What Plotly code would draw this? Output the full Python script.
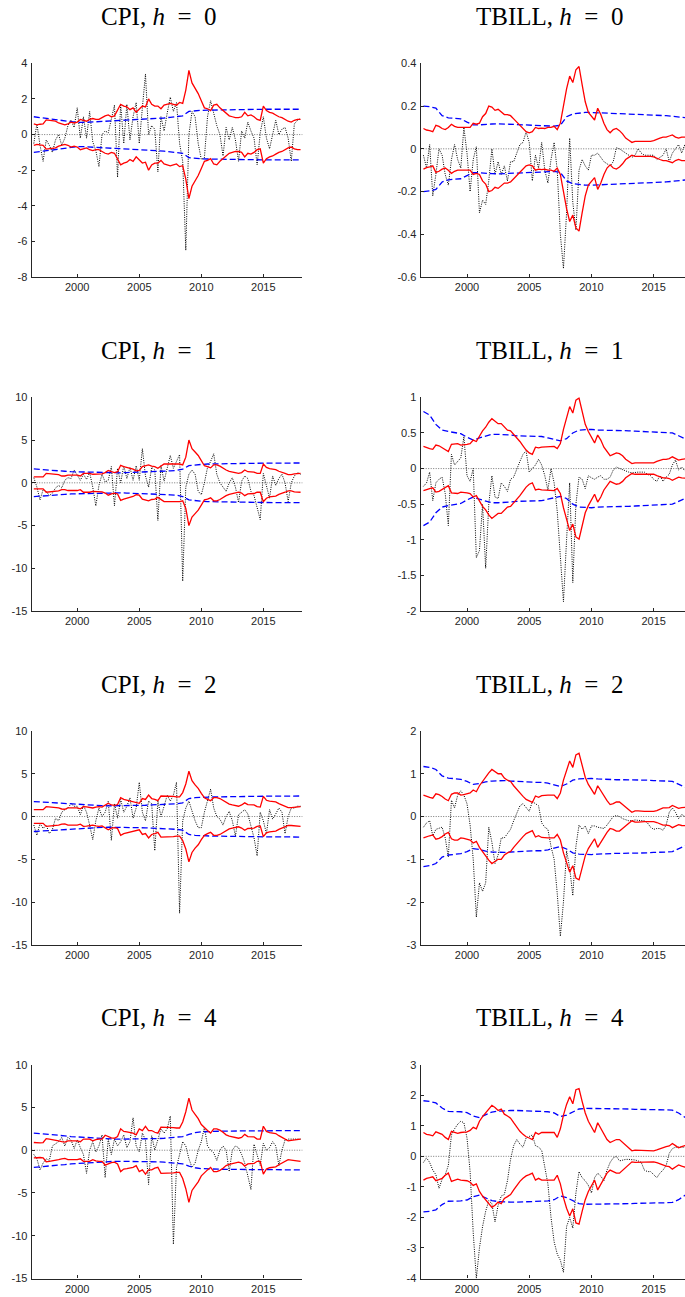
import numpy as np
import plotly.graph_objects as go

# ---------------- data ----------------
START = 1996.5          # first quarter shown
XTICKS = [2000, 2005, 2010, 2015]

# quarterly forecast errors (black dotted), 1996.5 ... 2018.0 (87 quarters)
cpi_h0_err = [
    -0.5, 0.6, -0.6, -1.5,
    -0.3, -0.6, -1.0, -0.3,
    0.0, -0.6, -0.2, 0.5,
    0.8, 0.4, 1.5, -0.2,
    1.0, -0.2, 1.3, -0.4,
    -0.9, -1.8, 0.0, 0.2,
    0.1, 0.9, 1.65, -2.4,
    1.7, -0.5, 1.7, -0.3,
    1.0, 1.8, -0.5, 1.5,
    3.4, 0.0, 0.5, 0.3,
    -2.1, 1.0, 0.2, 1.2,
    2.1, 1.3, 1.8, -0.5,
    -1.5, -6.5, 0.0, 1.3,
    1.0, -0.5, -1.4, -1.3,
    1.0, 1.9, 1.2, 0.5,
    0.0, -1.2, 0.4, -0.3,
    0.4, -0.3, -1.5, 0.2,
    -0.2, 0.7, 0.2, -0.2,
    -1.7, 0.1, 1.0, -0.2,
    -0.8, 0.0, 0.8, 0.0,
    0.3, 0.4, -0.2, -1.5,
    0.6, 0.8, 0.9,
]
cpi_h1_err = [
    0.6, -0.5, -2.0, -0.8,
    -1.0, -1.5, -1.2, -0.6,
    -0.3, -0.6, 0.3, 0.6,
    0.5, 1.5, 0.9, 0.3,
    1.0, 0.4, 1.2, -0.5,
    -2.7, -0.3, 1.0, 0.1,
    0.3, 1.9, -2.7, 1.7,
    0.0, 2.0, 0.5, 1.8,
    0.3, 2.0, 0.3, 4.0,
    0.8, -0.5, 1.8, 1.5,
    -4.4, 2.0, 0.2, 1.7,
    3.2, 1.7, 2.5, 3.3,
    -11.5, -0.5, 1.0, 1.5,
    1.0, -1.0, -1.4, 0.0,
    1.8, 2.5, 3.4, 1.0,
    0.0, -0.5, -1.0, 0.0,
    0.6, -0.5, -2.3, 0.2,
    0.8, 0.5, -1.0, -1.5,
    -3.0, -4.3, 1.1, -0.5,
    -1.8, 0.8, -0.3, 0.5,
    1.0, 0.0, -2.2, 0.0,
    0.8, 1.2, 1.0,
]
cpi_h2_err = [
    -1.0, -2.2, -0.8, -1.4,
    -1.0, -2.0, -1.5, -0.2,
    -0.5, 0.5, 0.8, 1.0,
    1.5, 1.2, 1.2, 0.2,
    1.3, 0.5, -1.0, -2.7,
    -0.5, 1.0, 0.0, 0.5,
    1.8, -2.8, 1.5, -0.2,
    2.0, 0.5, 1.2, 2.2,
    -0.2, 1.0, 4.0, 0.5,
    -0.5, 1.8, 1.5, -4.0,
    1.8, 0.0, 1.2, 2.5,
    1.8, 2.5, 4.0, -11.3,
    -0.5, 1.0, 1.8, 0.5,
    -0.5, -1.3, -1.3, 0.5,
    2.0, 3.2, 1.0, 0.0,
    -0.3, -1.0, 0.0, 0.6,
    -0.5, -2.3, 0.2, 0.5,
    0.8, 0.3, -1.0, -2.5,
    -4.6, 0.5, -0.5, -2.0,
    0.8, -0.3, 0.3, 1.0,
    0.5, -2.0, 0.0, 1.0,
    1.0, 1.2, 1.2,
]
cpi_h4_err = [
    -0.5, -1.0, -2.3, -1.5,
    -1.0, -1.2, 0.5, 0.8,
    1.0, 1.5, 0.5, 1.5,
    1.2, 0.2, 1.2, 0.3,
    -0.5, -2.7, 0.0, 1.0,
    -0.2, 0.5, 1.8, -3.2,
    1.3, -0.5, 1.3, 0.5,
    1.0, 1.8, 0.3, 1.0,
    3.8, 0.5, -0.2, 2.0,
    1.2, -4.0, 1.7, 0.0,
    1.2, 2.5, 2.0, 2.5,
    4.0, -11.0, -2.0, -0.5,
    1.0, 0.5, -1.0, -2.0,
    -1.5, 0.0, 1.0, 2.7,
    0.5, 0.0, -0.3, -1.2,
    0.0, 0.5, 0.0, -2.5,
    0.0, 0.5, 0.3, -0.5,
    -1.5, -3.0, -4.6, 0.7,
    -0.5, -1.8, 0.8, 0.0,
    0.3, 1.0, 0.5, -1.8,
    0.0, 1.2, 1.3, 1.3,
    1.3, 1.3, 1.3,
]
tbill_h0_err = [
    -0.03, -0.09, 0.02, -0.22,
    -0.12, 0.0, -0.03, -0.12,
    -0.17, -0.05, 0.02, -0.05,
    -0.09, 0.1, -0.02, -0.2,
    -0.05, 0.01, -0.3, -0.24,
    -0.26, -0.15, 0.0, -0.12,
    -0.06, -0.12, -0.08, -0.15,
    -0.06, -0.06, -0.02, 0.02,
    0.03, 0.08, 0.03, -0.15,
    -0.03, -0.09, 0.03, -0.1,
    -0.16, -0.05, 0.03, -0.1,
    -0.4, -0.56, -0.3, 0.05,
    -0.25, -0.38, -0.1, -0.05,
    -0.08, -0.1, -0.03, -0.03,
    -0.02, -0.04, -0.06, -0.07,
    -0.08, -0.06, 0.005, 0.0,
    -0.01, -0.02, -0.03, -0.04,
    -0.03, 0.0, -0.02, -0.03,
    -0.03, -0.03, -0.03, -0.05,
    -0.04, -0.03, 0.0, -0.06,
    -0.02, 0.0, 0.02, -0.02,
    0.02, -0.05, -0.03,
]
tbill_h1_err = [
    -0.25, -0.2, -0.05, -0.45,
    -0.2, -0.15, -0.12, -0.35,
    -0.8, 0.2, 0.05, 0.1,
    0.15, 0.45, -0.1, -0.18,
    0.0, -1.25, -1.15, -0.5,
    -1.4, -0.5, -0.1, -0.4,
    -0.42, -0.2, -0.25, -0.32,
    -0.15, -0.12, 0.0, 0.1,
    0.2, 0.25, -0.05, 0.0,
    0.05, 0.13, 0.05, -0.1,
    -0.3, 0.0, -0.2, -0.6,
    -1.2, -1.87, -1.0, -0.2,
    -1.6, -0.5, -0.12, -0.15,
    -0.28, -0.1, -0.13, -0.15,
    -0.12, -0.1, -0.15, -0.15,
    -0.12, -0.02, 0.02, 0.0,
    -0.02, -0.03, -0.05, -0.06,
    -0.05, -0.05, -0.05, -0.05,
    -0.08, -0.1, -0.15, -0.18,
    -0.1, -0.18, -0.12, -0.08,
    0.05, 0.12, -0.02, 0.02,
    -0.03, -0.02, -0.02,
]
tbill_h2_err = [
    -0.25, -0.15, -0.1, -0.45,
    -0.3, -0.28, -0.25, -0.5,
    -0.95, 0.38, 0.2, 0.5,
    0.6, 0.5, 0.3, -0.2,
    -1.0, -2.35, -1.55, -1.75,
    -1.55, -0.25, -0.6, -1.1,
    -0.9, -0.5, -0.5, -0.4,
    -0.3, -0.1, 0.1, 0.25,
    0.3, 0.2, 0.12, 0.35,
    0.3, 0.25, -0.15, -0.25,
    -0.3, -0.7, -1.0, -1.8,
    -2.8, -2.0, -0.8, -1.2,
    -1.85, -0.7, -0.2, -0.3,
    -0.22, -0.4, -0.22, -0.22,
    -0.25, -0.26, -0.28, -0.2,
    -0.1, 0.0, 0.02, 0.0,
    -0.05, -0.08, -0.1, -0.1,
    -0.08, -0.09, -0.1, -0.1,
    -0.15, -0.25, -0.3, -0.28,
    -0.28, -0.32, -0.2, 0.1,
    0.2, 0.1, -0.05, 0.05,
    0.0, 0.0, 0.0,
]
tbill_h4_err = [
    -0.2, -0.05, -0.2, -0.45,
    -0.6, -1.05, -0.75, -0.6,
    -0.3, 0.7, 0.9, 1.05,
    1.15, 1.1, 0.6, -0.5,
    -2.5, -4.0, -3.0, -2.3,
    -1.8, -1.45, -1.55, -2.15,
    -1.6, -1.3, -1.25, -0.8,
    -0.1, 0.35, 0.55, 0.4,
    0.3, 0.6, 0.65, 0.7,
    0.35, 0.3, 0.2, -0.3,
    -0.9, -2.0, -2.8, -3.2,
    -3.4, -3.8, -2.3, -2.0,
    -2.35, -1.2, -0.5, -0.7,
    -0.8, -0.95, -1.2, -0.7,
    -0.55, -0.65, -0.8, -0.45,
    -0.2, -0.05, 0.0, -0.15,
    -0.12, -0.1, -0.1, -0.1,
    -0.12, -0.15, -0.2, -0.45,
    -0.5, -0.5, -0.6, -0.7,
    -0.55, -0.45, -0.3, 0.1,
    0.25, 0.3, 0.3, 0.3,
    0.3, 0.3, 0.3,
]

# quarterly half-width of time-varying band (red, +/-)
cpi_h0_tv = [
    0.6, 0.55, 0.58, 0.6,
    0.82, 0.8, 0.8, 0.75,
    0.65, 0.6, 0.55, 0.6,
    0.7, 0.65, 0.7, 0.85,
    0.8, 0.75, 0.85, 0.9,
    0.85, 0.85, 0.95, 1.05,
    1.1, 1.0, 1.05, 1.35,
    1.7, 1.6, 1.55, 1.4,
    1.5, 1.25, 1.45, 1.6,
    1.55, 2.0, 1.7, 1.6,
    1.6, 1.45, 1.65, 1.7,
    1.75, 1.7, 1.65, 1.8,
    1.75, 2.5, 3.6, 2.9,
    2.6, 2.3, 1.9, 1.5,
    1.45, 1.35, 1.65, 1.7,
    1.5, 1.35, 1.2, 1.05,
    1.0, 0.95, 0.95, 1.0,
    1.25, 1.05, 1.1, 1.0,
    0.85, 0.8, 1.6, 1.35,
    1.25, 1.2, 1.1, 1.0,
    0.95, 0.85, 0.75, 0.7,
    0.8, 0.85, 0.85,
]
cpi_h1_tv = [
    0.7, 0.68, 0.65, 0.7,
    1.1, 1.05, 1.0, 1.0,
    0.95, 0.8, 0.8, 0.9,
    0.9, 0.9, 0.9, 0.8,
    1.1, 1.1, 1.1, 1.0,
    1.0, 1.05, 1.05, 1.2,
    1.45, 1.3, 1.2, 1.3,
    2.05, 1.9, 1.8, 1.65,
    1.6, 1.4, 1.45, 1.9,
    2.0, 2.1, 1.95, 1.9,
    1.7, 2.0, 2.2, 2.2,
    2.2, 2.15, 2.2, 2.2,
    2.1, 3.0, 5.0, 4.0,
    3.6, 3.2, 2.6, 2.0,
    1.9, 1.75, 2.1, 2.1,
    1.95, 1.7, 1.5, 1.35,
    1.25, 1.15, 1.1, 1.2,
    1.5, 1.3, 1.3, 1.25,
    1.1, 1.1, 2.2, 1.8,
    1.65, 1.6, 1.55, 1.35,
    1.25, 1.1, 0.95, 0.95,
    1.05, 1.1, 1.1,
]
cpi_h2_tv = [
    0.8, 0.78, 0.75, 0.8,
    1.15, 1.12, 1.1, 1.1,
    1.0, 0.88, 0.85, 1.0,
    1.0, 1.0, 1.0, 0.9,
    1.15, 1.12, 1.1, 1.0,
    1.1, 1.15, 1.1, 1.3,
    1.55, 1.35, 1.3, 1.4,
    2.2, 2.0, 1.9, 1.8,
    1.75, 1.6, 1.55, 2.1,
    2.0, 2.5, 2.1, 2.0,
    1.85, 2.4, 2.4, 2.4,
    2.4, 2.35, 2.3, 2.3,
    2.8, 3.8, 5.3, 4.2,
    3.7, 3.3, 2.7, 2.2,
    2.0, 1.85, 2.2, 2.2,
    2.1, 1.85, 1.6, 1.45,
    1.35, 1.25, 1.2, 1.35,
    1.6, 1.4, 1.4, 1.35,
    1.15, 1.1, 2.35, 1.9,
    1.8, 1.75, 1.7, 1.5,
    1.35, 1.2, 1.05, 1.05,
    1.1, 1.15, 1.15,
]
cpi_h4_tv = [
    0.9, 0.87, 0.85, 0.9,
    1.35, 1.3, 1.25, 1.2,
    1.1, 1.0, 0.95, 1.1,
    1.1, 1.1, 1.1, 1.0,
    1.3, 1.3, 1.3, 1.1,
    1.25, 1.3, 1.3, 1.75,
    1.55, 1.45, 1.4, 1.6,
    2.5, 2.2, 2.15, 2.1,
    2.0, 1.8, 2.5, 2.3,
    2.8, 2.3, 2.3, 2.1,
    2.0, 2.7, 2.7, 2.7,
    2.7, 2.65, 2.6, 2.6,
    3.3, 4.5, 6.1, 4.7,
    4.2, 3.7, 3.0, 2.6,
    2.3, 2.0, 2.5, 2.5,
    2.35, 2.1, 1.8, 1.65,
    1.55, 1.45, 1.4, 1.5,
    1.85, 1.6, 1.6, 1.55,
    1.3, 1.3, 2.8, 2.2,
    2.05, 2.0, 1.95, 1.7,
    1.5, 1.25, 1.1, 1.15,
    1.2, 1.25, 1.3,
]
tbill_h0_tv = [
    0.095, 0.088, 0.085, 0.08,
    0.11, 0.105, 0.095, 0.09,
    0.1, 0.115, 0.105, 0.1,
    0.1, 0.1, 0.1, 0.1,
    0.12, 0.115, 0.12, 0.15,
    0.165, 0.2, 0.195, 0.18,
    0.185, 0.17, 0.16, 0.16,
    0.155, 0.14, 0.125, 0.11,
    0.095, 0.08, 0.075, 0.08,
    0.1, 0.095, 0.097, 0.095,
    0.1, 0.1, 0.105, 0.09,
    0.12, 0.2, 0.28, 0.34,
    0.31, 0.37, 0.385, 0.3,
    0.22, 0.17, 0.15, 0.135,
    0.19, 0.16, 0.12, 0.09,
    0.075, 0.09, 0.095, 0.085,
    0.07, 0.05, 0.04, 0.03,
    0.035, 0.035, 0.033, 0.033,
    0.033, 0.035, 0.038, 0.045,
    0.05, 0.055, 0.055, 0.06,
    0.065, 0.055, 0.05, 0.055,
    0.055, 0.055, 0.055,
]
tbill_h1_tv = [
    0.31, 0.29, 0.28, 0.27,
    0.33, 0.32, 0.29, 0.26,
    0.24, 0.34, 0.35, 0.35,
    0.33, 0.33, 0.34, 0.35,
    0.4, 0.38, 0.45, 0.53,
    0.58, 0.65, 0.7, 0.67,
    0.63, 0.63, 0.58, 0.54,
    0.53, 0.48, 0.44, 0.38,
    0.32, 0.26, 0.22, 0.2,
    0.3, 0.29, 0.3, 0.3,
    0.31, 0.31, 0.31, 0.28,
    0.35, 0.55, 0.72, 0.87,
    0.78, 0.96, 0.99, 0.8,
    0.62, 0.52, 0.43, 0.36,
    0.47, 0.4, 0.3, 0.24,
    0.18, 0.2, 0.22, 0.21,
    0.18, 0.13, 0.1, 0.07,
    0.08, 0.08, 0.08, 0.075,
    0.075, 0.075, 0.08, 0.1,
    0.12, 0.13, 0.13, 0.14,
    0.165, 0.14, 0.12, 0.13,
    0.14, 0.14, 0.14,
]
tbill_h2_tv = [
    0.5, 0.47, 0.45, 0.43,
    0.53, 0.51, 0.47, 0.41,
    0.37, 0.52, 0.55, 0.55,
    0.5, 0.51, 0.53, 0.55,
    0.62, 0.58, 0.72, 0.83,
    0.92, 1.02, 1.1, 1.05,
    1.0, 1.0, 0.9, 0.85,
    0.82, 0.72, 0.63, 0.55,
    0.47, 0.4, 0.36, 0.33,
    0.48, 0.45, 0.49, 0.5,
    0.5, 0.5, 0.5, 0.42,
    0.55, 0.85, 1.1, 1.3,
    1.15, 1.44, 1.48, 1.2,
    0.92, 0.75, 0.62, 0.52,
    0.72, 0.6, 0.47, 0.37,
    0.28, 0.3, 0.34, 0.34,
    0.28, 0.21, 0.16, 0.1,
    0.13, 0.13, 0.12, 0.12,
    0.12, 0.12, 0.12, 0.14,
    0.17, 0.2, 0.2, 0.21,
    0.26, 0.22, 0.19, 0.21,
    0.22, 0.22, 0.22,
]
tbill_h4_tv = [
    0.78, 0.72, 0.7, 0.67,
    0.8, 0.77, 0.72, 0.62,
    0.55, 0.82, 0.78, 0.75,
    0.78, 0.78, 0.8, 0.85,
    0.95, 0.9, 1.15, 1.3,
    1.42, 1.55, 1.67, 1.6,
    1.5, 1.55, 1.38, 1.32,
    1.25, 1.1, 0.95, 0.82,
    0.72, 0.64, 0.6, 0.55,
    0.78, 0.72, 0.78, 0.78,
    0.78, 0.78, 0.78, 0.62,
    0.9, 1.35, 1.7, 1.95,
    1.72, 2.18, 2.22, 1.8,
    1.42, 1.15, 0.95, 0.78,
    1.1, 0.9, 0.72, 0.55,
    0.45, 0.5, 0.55, 0.55,
    0.45, 0.35, 0.27, 0.18,
    0.2, 0.2, 0.2, 0.19,
    0.18, 0.18, 0.18, 0.21,
    0.25, 0.3, 0.32, 0.34,
    0.42, 0.35, 0.28, 0.32,
    0.35, 0.35, 0.35,
]

# half-yearly half-width of the constant-volatility band (blue dashed, +/-),
# 1996.5 ... 2018.0 (44 half-years)
cpi_h0_cv = [
    1.0, 0.95, 0.9, 0.85, 0.8, 0.76, 0.72, 0.68,
    0.68, 0.7, 0.7, 0.72, 0.73, 0.74, 0.76, 0.78,
    0.8, 0.82, 0.85, 0.88, 0.9, 0.93, 0.97, 1.0,
    1.05, 1.3, 1.35, 1.36, 1.37, 1.38, 1.39, 1.4,
    1.4, 1.4, 1.41, 1.41, 1.41, 1.42, 1.42, 1.42,
    1.42, 1.42, 1.42, 1.42,
]
cpi_h1_cv = [
    1.62, 1.55, 1.5, 1.45, 1.4, 1.35, 1.3, 1.28,
    1.25, 1.2, 1.18, 1.15, 1.15, 1.15, 1.17, 1.2,
    1.22, 1.24, 1.27, 1.3, 1.32, 1.35, 1.4, 1.45,
    1.6, 2.0, 2.1, 2.15, 2.2, 2.22, 2.24, 2.25,
    2.26, 2.27, 2.28, 2.28, 2.29, 2.3, 2.3, 2.3,
    2.31, 2.32, 2.32, 2.32,
]
cpi_h2_cv = [
    1.75, 1.7, 1.65, 1.6, 1.55, 1.5, 1.45, 1.4,
    1.35, 1.32, 1.3, 1.27, 1.25, 1.25, 1.25, 1.27,
    1.3, 1.3, 1.32, 1.35, 1.37, 1.4, 1.45, 1.5,
    1.6, 2.1, 2.2, 2.25, 2.28, 2.3, 2.3, 2.32,
    2.32, 2.33, 2.34, 2.35, 2.36, 2.37, 2.38, 2.38,
    2.39, 2.4, 2.4, 2.4,
]
cpi_h4_cv = [
    2.0, 1.95, 1.9, 1.82, 1.75, 1.68, 1.6, 1.55,
    1.5, 1.45, 1.4, 1.35, 1.3, 1.3, 1.3, 1.3,
    1.3, 1.3, 1.32, 1.34, 1.36, 1.4, 1.45, 1.5,
    1.6, 1.85, 2.05, 2.15, 2.2, 2.2, 2.22, 2.24,
    2.25, 2.26, 2.27, 2.28, 2.29, 2.3, 2.3, 2.3,
    2.3, 2.3, 2.3, 2.3,
]
tbill_h0_cv = [
    0.2, 0.197, 0.19, 0.155, 0.145, 0.142, 0.14, 0.125,
    0.112, 0.112, 0.115, 0.116, 0.117, 0.116, 0.115, 0.113,
    0.112, 0.111, 0.11, 0.11, 0.108, 0.106, 0.11, 0.15,
    0.163, 0.168, 0.17, 0.17, 0.169, 0.168, 0.167, 0.166,
    0.165, 0.164, 0.163, 0.162, 0.161, 0.16, 0.158, 0.155,
    0.152, 0.148, 0.145, 0.143,
]
tbill_h1_cv = [
    0.8, 0.75, 0.62, 0.54, 0.52, 0.51, 0.49, 0.44,
    0.4, 0.43, 0.46, 0.48, 0.48, 0.48, 0.47, 0.46,
    0.455, 0.45, 0.45, 0.45, 0.43, 0.41, 0.39, 0.42,
    0.5, 0.54, 0.55, 0.55, 0.54, 0.54, 0.535, 0.53,
    0.53, 0.53, 0.525, 0.52, 0.52, 0.515, 0.51, 0.505,
    0.5, 0.46, 0.42, 0.41,
]
tbill_h2_cv = [
    1.17, 1.15, 1.1, 0.95, 0.9, 0.88, 0.87, 0.82,
    0.75, 0.77, 0.81, 0.83, 0.84, 0.84, 0.83, 0.82,
    0.81, 0.8, 0.8, 0.8, 0.78, 0.74, 0.7, 0.76,
    0.85, 0.88, 0.89, 0.89, 0.88, 0.87, 0.87, 0.86,
    0.86, 0.86, 0.85, 0.85, 0.85, 0.84, 0.84, 0.83,
    0.82, 0.76, 0.69, 0.67,
]
tbill_h4_cv = [
    1.82, 1.8, 1.75, 1.58, 1.47, 1.47, 1.46, 1.43,
    1.32, 1.27, 1.35, 1.45, 1.48, 1.5, 1.5, 1.5,
    1.49, 1.48, 1.48, 1.48, 1.46, 1.42, 1.3, 1.35,
    1.45, 1.55, 1.57, 1.57, 1.56, 1.56, 1.55, 1.55,
    1.55, 1.55, 1.54, 1.54, 1.53, 1.53, 1.52, 1.52,
    1.51, 1.42, 1.28, 1.22,
]

# y tick values / labels for each panel
yt_cpi_h0 = [-8, -6, -4, -2, 0, 2, 4]
yl_cpi_h0 = ["-8", "-6", "-4", "-2", "0", "2", "4"]
yt_cpi = [-15, -10, -5, 0, 5, 10]
yl_cpi = ["-15", "-10", "-5", "0", "5", "10"]
yt_tb_h0 = [-0.6, -0.4, -0.2, 0, 0.2, 0.4]
yl_tb_h0 = ["-0.6", "-0.4", "-0.2", "0", "0.2", "0.4"]
yt_tb_h1 = [-2, -1.5, -1, -0.5, 0, 0.5, 1]
yl_tb_h1 = ["-2", "-1.5", "-1", "-0.5", "0", "0.5", "1"]
yt_tb_h2 = [-3, -2, -1, 0, 1, 2]
yl_tb_h2 = ["-3", "-2", "-1", "0", "1", "2"]
yt_tb_h4 = [-4, -3, -2, -1, 0, 1, 2, 3]
yl_tb_h4 = ["-4", "-3", "-2", "-1", "0", "1", "2", "3"]

panels = [
    # (variable, h, err, tv band, cv band, y range, ticks, labels, column)
    ("CPI", 0, cpi_h0_err, cpi_h0_tv, cpi_h0_cv, [-8, 4], yt_cpi_h0, yl_cpi_h0, 0),
    ("TBILL", 0, tbill_h0_err, tbill_h0_tv, tbill_h0_cv, [-0.6, 0.4], yt_tb_h0, yl_tb_h0, 1),
    ("CPI", 1, cpi_h1_err, cpi_h1_tv, cpi_h1_cv, [-15, 10], yt_cpi, yl_cpi, 0),
    ("TBILL", 1, tbill_h1_err, tbill_h1_tv, tbill_h1_cv, [-2, 1], yt_tb_h1, yl_tb_h1, 1),
    ("CPI", 2, cpi_h2_err, cpi_h2_tv, cpi_h2_cv, [-15, 10], yt_cpi, yl_cpi, 0),
    ("TBILL", 2, tbill_h2_err, tbill_h2_tv, tbill_h2_cv, [-3, 2], yt_tb_h2, yl_tb_h2, 1),
    ("CPI", 4, cpi_h4_err, cpi_h4_tv, cpi_h4_cv, [-15, 10], yt_cpi, yl_cpi, 0),
    ("TBILL", 4, tbill_h4_err, tbill_h4_tv, tbill_h4_cv, [-4, 3], yt_tb_h4, yl_tb_h4, 1),
]

# ---------------- layout geometry (pixels) ----------------
W, H = 685, 1297
col_px = [(31.7, 302.3), (420.7, 685.0)]
col_xrange = [[1996.33, 2018.14], [1996.28, 2017.515]]
row_top_px = [63.3, 397.3, 731.0, 1064.7]
row_h_px = 213.8
title_cx_px = [159.0, 549.5]
title_gap_px = 47.0

AX_COLOR = "#262626"
fig = go.Figure()
layout = dict(
    template="none",
    width=W, height=H, margin=dict(l=0, r=0, t=0, b=0, pad=0, autoexpand=False),
    paper_bgcolor="white", plot_bgcolor="white", showlegend=False,
    annotations=[], shapes=[],
)

for i, (var, h, err, tv, cv, yr, yt, yl, col) in enumerate(panels):
    row = i // 2
    sfx = "" if i == 0 else str(i + 1)
    xa, ya = "x" + sfx, "y" + sfx
    xq = START + 0.25 * np.arange(len(err))
    xb = START + 0.25 * np.arange(len(tv))
    xc = START + 0.5 * np.arange(len(cv))
    tv_a = np.array(tv)
    cv_a = np.array(cv)

    fig.add_trace(go.Scatter(x=xq, y=err, mode="lines", xaxis=xa, yaxis=ya,
                             line=dict(color="black", width=1, dash="1px,1.3px")))
    for sgn in (1, -1):
        fig.add_trace(go.Scatter(x=xc, y=sgn * cv_a, mode="lines", xaxis=xa, yaxis=ya,
                                 line=dict(color="#0000FF", width=1.3, dash="6px,3px")))
    for sgn in (1, -1):
        fig.add_trace(go.Scatter(x=xb, y=sgn * tv_a, mode="lines", xaxis=xa, yaxis=ya,
                                 line=dict(color="#FF0000", width=1.3)))

    x0, x1 = col_px[col]
    top = row_top_px[row]
    bot = top + row_h_px
    common = dict(showline=True, linecolor=AX_COLOR, linewidth=1.2, mirror=False,
                  showgrid=False, zeroline=False, automargin=False,
                  ticks="inside", ticklen=3, tickwidth=1, tickcolor=AX_COLOR,
                  tickfont=dict(family="Liberation Sans, Arial, sans-serif",
                                size=11, color=AX_COLOR))
    layout["xaxis" + sfx] = dict(
        domain=[x0 / W, x1 / W], range=col_xrange[col], anchor=ya,
        tickmode="array", tickvals=XTICKS, ticktext=[str(t) for t in XTICKS],
        ticklabelstandoff=0, **common)
    layout["yaxis" + sfx] = dict(
        domain=[1 - bot / H, 1 - top / H], range=yr, anchor=xa,
        tickmode="array", tickvals=yt, ticktext=yl, ticklabelstandoff=1, **common)

    layout["shapes"].append(dict(
        type="line", xref=xa + " domain", yref=ya, x0=0, x1=1, y0=0, y1=0,
        line=dict(color="#555555", width=0.8, dash="1px,1.5px"), layer="below"))

    layout["annotations"].append(dict(
        text=f"{var}, <i>h</i>\u2002=\u2002{h}", xref="paper", yref="paper",
        x=title_cx_px[col] / W, y=1 - (top - title_gap_px) / H,
        xanchor="center", yanchor="middle", showarrow=False,
        font=dict(family="Liberation Serif, Times New Roman, serif", size=25,
                  color="black")))

fig.update_layout(**layout)
fig.write_html(
    "out.html",
    config={"displayModeBar": False},
    post_script="document.body.style.margin='0';document.body.style.overflow='hidden';",
)
